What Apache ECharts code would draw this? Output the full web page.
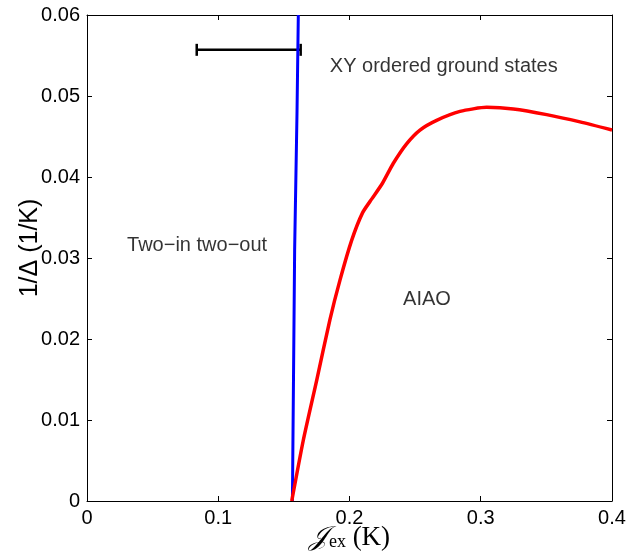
<!DOCTYPE html>
<html>
<head>
<meta charset="utf-8">
<script src="https://cdn.jsdelivr.net/npm/echarts@6/dist/echarts.min.js"></script>
<style>
  html, body { margin: 0; padding: 0; background: #fff; }
  #chart { width: 636px; height: 551px; }
</style>
</head>
<body>
<div id="chart"></div>
<script>
// Phase boundary between two-in two-out and XY ordered states (blue)
const blueX = [0.1565, 0.1582, 0.1600, 0.1610];
const blueY = [0, 0.031, 0.0479, 0.0600];

// Boundary of the AIAO region (red)
const redX = [0.1560, 0.1648, 0.1750, 0.1851, 0.1928, 0.2017, 0.2100, 0.2170, 0.2250, 0.2334, 0.2435, 0.2537, 0.2664, 0.2842, 0.3045, 0.3248, 0.3502, 0.3756, 0.4000];
const redY = [0, 0.0075, 0.0149, 0.0224, 0.0273, 0.0322, 0.0356, 0.0373, 0.0392, 0.0417, 0.0441, 0.0458, 0.0470, 0.0481, 0.0486, 0.0484, 0.0477, 0.0468, 0.0458];

// Horizontal error bar: [y, x low, x high]
const errBar = [0.0557, 0.0836, 0.1628];

// Region labels anchored at their left edge
const regionText = ['XY ordered ground states', 'Two\u2212in two\u2212out', 'AIAO'];
const regionX = [0.185, 0.0305, 0.2408];
const regionY = [0.0536, 0.0316, 0.0249];

const xTicks = ['0', '0.1', '0.2', '0.3', '0.4'];
const yTicks = ['0', '0.01', '0.02', '0.03', '0.04', '0.05', '0.06'];

const zip = (xs, ys) => xs.map((x, i) => [x, ys[i]]);

const chart = echarts.init(document.getElementById('chart'));
const font = 'Liberation Sans, Arial, Helvetica, sans-serif';
const tickStyle = { show: true, inside: true, length: 5, lineStyle: { color: '#000', width: 1 } };
const lineStyle = { show: true, onZero: false, lineStyle: { color: '#000', width: 1 } };

chart.setOption({
  animation: false,
  grid: { left: 87, right: 24, top: 15, bottom: 50, containLabel: false, outerBoundsMode: 'none' },
  xAxis: [
    {
      type: 'value', min: 0, max: 0.4, interval: 0.1, position: 'bottom',
      axisLine: lineStyle, axisTick: tickStyle, splitLine: { show: false },
      axisLabel: {
        color: '#000', fontFamily: font, fontSize: 20, margin: 7,
        formatter: v => xTicks[Math.round(v * 10)]
      },
      name: '{j|\uD835\uDCA5}{sub|ex}{k| (K)}',
      nameLocation: 'middle', nameGap: 23, nameMoveOverlap: false,
      nameTextStyle: {
        verticalAlign: 'top',
        rich: {
          j: { fontFamily: 'DejaVu Serif, serif', fontStyle: 'italic', fontSize: 27, color: '#000' },
          sub: { fontFamily: 'Liberation Serif, serif', fontSize: 18, color: '#000', verticalAlign: 'bottom', padding: [0, 0, 0, 1] },
          k: { fontFamily: 'Liberation Serif, serif', fontSize: 27, color: '#000' }
        }
      }
    },
    {
      type: 'value', min: 0, max: 0.4, interval: 0.1, position: 'top',
      axisLine: lineStyle, axisTick: tickStyle, axisLabel: { show: false }, splitLine: { show: false }
    }
  ],
  yAxis: [
    {
      type: 'value', min: 0, max: 0.06, interval: 0.01, position: 'left',
      axisLine: lineStyle, axisTick: tickStyle, splitLine: { show: false },
      axisLabel: {
        color: '#000', fontFamily: font, fontSize: 20, margin: 7,
        formatter: v => yTicks[Math.round(v * 100)]
      },
      name: '1/\u0394 (1/K)', nameLocation: 'middle', nameGap: 44, nameRotate: 90, nameMoveOverlap: false,
      nameTextStyle: { color: '#000', fontFamily: font, fontSize: 25, padding: [0, 0, 0, 20] }
    },
    {
      type: 'value', min: 0, max: 0.06, interval: 0.01, position: 'right',
      axisLine: lineStyle, axisTick: tickStyle, axisLabel: { show: false }, splitLine: { show: false }
    }
  ],
  series: [
    {
      type: 'line', data: zip(blueX, blueY), showSymbol: false, clip: true,
      lineStyle: { color: '#0000ff', width: 3 }
    },
    {
      type: 'line', data: zip(redX, redY), showSymbol: false, smooth: 0.2, clip: true,
      lineStyle: { color: '#ff0000', width: 3.5 }
    },
    {
      type: 'custom',
      data: [errBar],
      renderItem: (params, api) => {
        const y = api.value(0);
        const p1 = api.coord([api.value(1), y]);
        const p2 = api.coord([api.value(2), y]);
        const cap = 6;
        const style = { stroke: '#000', lineWidth: 2.5 };
        return {
          type: 'group',
          children: [
            { type: 'line', shape: { x1: p1[0], y1: p1[1], x2: p2[0], y2: p2[1] }, style },
            { type: 'line', shape: { x1: p1[0], y1: p1[1] - cap, x2: p1[0], y2: p1[1] + cap }, style },
            { type: 'line', shape: { x1: p2[0], y1: p2[1] - cap, x2: p2[0], y2: p2[1] + cap }, style }
          ]
        };
      }
    },
    {
      type: 'scatter', symbolSize: 0,
      data: regionText.map((t, i) => ({ value: [regionX[i], regionY[i]], name: t })),
      label: {
        show: true, position: 'right', distance: 0,
        formatter: p => p.name,
        color: '#000', fontFamily: font, fontSize: 20
      }
    }
  ]
});
</script>
</body>
</html>
